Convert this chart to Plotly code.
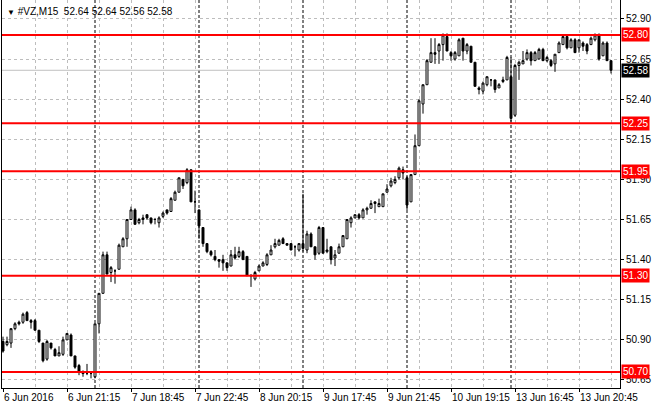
import plotly.graph_objects as go

symbol = "#VZ,M15"
days = ["6 Jun", "7 Jun", "8 Jun", "9 Jun", "10 Jun", "13 Jun"]
year = "2016"
session_slots = ["16:30", "16:45", "17:00", "17:15", "17:30", "17:45", "18:00", "18:15",
                 "18:30", "18:45", "19:00", "19:15", "19:30", "19:45", "20:00", "20:15",
                 "20:30", "20:45", "21:00", "21:15", "21:30", "21:45", "22:00", "22:15",
                 "22:30", "22:45"]
first_slot = "17:15"

opens = [50.89, 50.87, 50.88, 50.97, 51.01, 51.01, 51.07, 51.02, 51.02, 50.96,
         50.88, 50.78, 50.88, 50.84, 50.80, 50.81, 50.90, 50.93, 50.80, 50.74,
         50.70, 50.69, 50.69, 50.67, 51.00, 51.19, 51.43, 51.32, 51.33, 51.34,
         51.48, 51.53, 51.65, 51.71, 51.63, 51.65, 51.68, 51.66, 51.65, 51.63,
         51.67, 51.71, 51.70, 51.77, 51.82, 51.90, 51.88, 51.96, 51.76, 51.71,
         51.60, 51.50, 51.45, 51.42, 51.40, 51.40, 51.38, 51.36, 51.43, 51.42,
         51.45, 51.42, 51.30, 51.28, 51.33, 51.36, 51.37, 51.43, 51.48, 51.49,
         51.53, 51.50, 51.50, 51.48, 51.46, 51.50, 51.46, 51.56, 51.48, 51.44,
         51.60, 51.45, 51.48, 51.41, 51.44, 51.48, 51.53, 51.63, 51.66, 51.68,
         51.66, 51.71, 51.72, 51.76, 51.73, 51.73, 51.82, 51.86, 51.88, 51.91,
         51.96, 51.91, 51.76, 51.93, 52.11, 52.37, 52.49, 52.63, 52.69, 52.70,
         52.74, 52.79, 52.69, 52.65, 52.67, 52.78, 52.70, 52.73, 52.63, 52.47,
         52.45, 52.49, 52.52, 52.52, 52.47, 52.51, 52.52, 52.54, 52.30, 52.61,
         52.62, 52.65, 52.69, 52.64, 52.65, 52.71, 52.64, 52.64, 52.62, 52.69,
         52.74, 52.79, 52.72, 52.77, 52.72, 52.75, 52.74, 52.74, 52.77, 52.80,
         52.67, 52.75, 52.64]
highs = [50.92, 50.92, 50.97, 51.01, 51.02, 51.07, 51.08, 51.03, 51.03, 50.96,
         50.88, 50.90, 50.88, 50.85, 50.86, 50.92, 50.94, 50.94, 50.80, 50.75,
         50.71, 50.75, 50.69, 51.00, 51.19, 51.45, 51.45, 51.36, 51.34, 51.50,
         51.54, 51.65, 51.73, 51.72, 51.66, 51.68, 51.68, 51.66, 51.66, 51.67,
         51.70, 51.71, 51.79, 51.83, 51.91, 51.90, 51.97, 51.96, 51.83, 51.71,
         51.60, 51.50, 51.46, 51.46, 51.40, 51.43, 51.38, 51.46, 51.48, 51.48,
         51.46, 51.42, 51.31, 51.33, 51.37, 51.39, 51.44, 51.49, 51.53, 51.53,
         51.54, 51.50, 51.50, 51.49, 51.50, 51.81, 51.58, 51.57, 51.48, 51.61,
         51.60, 51.53, 51.48, 51.46, 51.50, 51.55, 51.65, 51.67, 51.68, 51.69,
         51.72, 51.73, 51.77, 51.76, 51.78, 51.81, 51.87, 51.91, 51.92, 51.98,
         51.98, 51.92, 51.93, 52.18, 52.40, 52.49, 52.65, 52.78, 52.78, 52.75,
         52.81, 52.81, 52.70, 52.70, 52.78, 52.78, 52.75, 52.73, 52.63, 52.48,
         52.51, 52.54, 52.52, 52.52, 52.50, 52.54, 52.67, 52.66, 52.62, 52.64,
         52.70, 52.71, 52.70, 52.70, 52.72, 52.72, 52.67, 52.65, 52.68, 52.76,
         52.79, 52.79, 52.78, 52.78, 52.77, 52.76, 52.75, 52.79, 52.81, 52.81,
         52.76, 52.76, 52.64]
lows = [50.82, 50.86, 50.85, 50.96, 50.99, 51.00, 51.02, 50.97, 50.96, 50.88,
        50.76, 50.77, 50.84, 50.80, 50.80, 50.80, 50.90, 50.80, 50.72, 50.68,
        50.67, 50.68, 50.66, 50.66, 50.94, 51.19, 51.31, 51.26, 51.25, 51.34,
        51.48, 51.48, 51.65, 51.62, 51.62, 51.62, 51.65, 51.62, 51.62, 51.60,
        51.66, 51.68, 51.70, 51.77, 51.82, 51.84, 51.87, 51.76, 51.69, 51.53,
        51.48, 51.44, 51.42, 51.39, 51.35, 51.33, 51.33, 51.36, 51.40, 51.41,
        51.40, 51.30, 51.23, 51.27, 51.33, 51.36, 51.36, 51.43, 51.47, 51.49,
        51.50, 51.49, 51.46, 51.42, 51.45, 51.45, 51.44, 51.48, 51.40, 51.43,
        51.44, 51.44, 51.37, 51.36, 51.44, 51.48, 51.53, 51.60, 51.66, 51.65,
        51.66, 51.68, 51.72, 51.69, 51.73, 51.73, 51.82, 51.85, 51.87, 51.90,
        51.90, 51.71, 51.76, 51.93, 52.11, 52.31, 52.49, 52.63, 52.62, 52.62,
        52.64, 52.70, 52.64, 52.64, 52.67, 52.64, 52.68, 52.63, 52.48, 52.43,
        52.43, 52.48, 52.48, 52.44, 52.47, 52.50, 52.52, 52.26, 52.29, 52.52,
        52.62, 52.64, 52.61, 52.64, 52.65, 52.64, 52.63, 52.60, 52.57, 52.69,
        52.74, 52.71, 52.72, 52.69, 52.69, 52.70, 52.68, 52.74, 52.76, 52.64,
        52.67, 52.64, 52.56]
closes = [50.83, 50.89, 50.97, 51.00, 51.00, 51.06, 51.02, 51.01, 50.96, 50.89,
          50.77, 50.89, 50.85, 50.80, 50.82, 50.90, 50.94, 50.80, 50.73, 50.70,
          50.69, 50.69, 50.69, 51.00, 51.19, 51.43, 51.31, 51.35, 51.33, 51.49,
          51.53, 51.65, 51.71, 51.62, 51.65, 51.66, 51.66, 51.63, 51.65, 51.66,
          51.69, 51.69, 51.78, 51.82, 51.91, 51.86, 51.96, 51.76, 51.76, 51.61,
          51.50, 51.45, 51.43, 51.40, 51.39, 51.38, 51.35, 51.43, 51.41, 51.45,
          51.40, 51.30, 51.30, 51.32, 51.36, 51.38, 51.43, 51.46, 51.50, 51.52,
          51.50, 51.49, 51.46, 51.48, 51.50, 51.47, 51.56, 51.48, 51.43, 51.60,
          51.44, 51.46, 51.40, 51.43, 51.48, 51.55, 51.65, 51.66, 51.68, 51.66,
          51.71, 51.72, 51.75, 51.75, 51.75, 51.81, 51.84, 51.89, 51.90, 51.97,
          51.94, 51.74, 51.93, 52.11, 52.39, 52.49, 52.64, 52.69, 52.68, 52.74,
          52.80, 52.70, 52.67, 52.69, 52.77, 52.70, 52.74, 52.63, 52.48, 52.46,
          52.50, 52.54, 52.52, 52.46, 52.49, 52.52, 52.66, 52.28, 52.61, 52.63,
          52.64, 52.69, 52.64, 52.69, 52.71, 52.64, 52.66, 52.61, 52.68, 52.75,
          52.79, 52.72, 52.77, 52.69, 52.77, 52.73, 52.70, 52.78, 52.80, 52.65,
          52.75, 52.64, 52.58]

levels = [52.80, 52.25, 51.95, 51.30, 50.70]
bid = 52.58

# bar time labels
bar_day = []
bar_time = []
for d_i, d in enumerate(days):
    slots = session_slots[session_slots.index(first_slot):] if d_i == 0 else session_slots
    for s in slots:
        bar_day.append(d)
        bar_time.append(s)
n = len(opens)
xs = list(range(n))
labels = [f"{d} {t}" for d, t in zip(bar_day, bar_time)]

tick_idx = list(range(0, n, 16))
tick_text = [f"{days[0]} {year}" if i == 0 else labels[i] for i in tick_idx]
day_starts = [i for i in range(1, n) if bar_day[i] != bar_day[i - 1]]

FONT = "Liberation Sans"
GRID = "#bdbdbd"
fig = go.Figure()
fig.add_trace(go.Candlestick(
    x=xs, open=opens, high=highs, low=lows, close=closes, text=labels,
    increasing=dict(line=dict(color="black", width=1), fillcolor="white"),
    decreasing=dict(line=dict(color="black", width=1), fillcolor="black"),
    whiskerwidth=0, hoverinfo="skip", showlegend=False))

shapes = []
for i in day_starts:
    shapes.append(dict(type="line", xref="x", yref="paper", x0=i, x1=i, y0=0, y1=1,
                       line=dict(color="black", width=1, dash="3px,2px"), layer="below"))
shapes.append(dict(type="line", xref="paper", yref="y", x0=0, x1=1, y0=bid, y1=bid,
                   line=dict(color="#c0c0c0", width=1), layer="below"))
for lv in levels:
    shapes.append(dict(type="line", xref="paper", yref="y", x0=0, x1=1, y0=lv, y1=lv,
                       line=dict(color="#ff0000", width=2)))

ann = []
for lv in levels:
    ann.append(dict(x=1, xref="paper", y=lv, yref="y", xanchor="left", yanchor="middle",
                    xshift=1, text=f"{lv:.2f}", showarrow=False, bgcolor="#ff0000",
                    borderpad=1, font=dict(family=FONT, size=10, color="white")))
ann.append(dict(x=1, xref="paper", y=bid, yref="y", xanchor="left", yanchor="middle",
                xshift=1, text=f"{bid:.2f}", showarrow=False, bgcolor="black",
                borderpad=1, font=dict(family=FONT, size=10, color="white")))
header = (f"<span style='font-size:8px'>▼</span> {symbol}  "
          f"{opens[-1]:.2f} {highs[-1]:.2f} {lows[-1]:.2f} {closes[-1]:.2f}")
ann.append(dict(x=0, xref="paper", y=1, yref="paper", xanchor="left", yanchor="top",
                xshift=3, yshift=-4, text=header, showarrow=False,
                font=dict(family=FONT, size=10, color="black")))

fig.update_layout(
    width=660, height=410, margin=dict(l=2, r=40, t=0, b=22, autoexpand=False),
    paper_bgcolor="white", plot_bgcolor="white",
    shapes=shapes, annotations=ann, showlegend=False,
    font=dict(family=FONT, size=10, color="black"),
)
fig.update_xaxes(
    range=[-0.25, 154.25], rangeslider_visible=False, automargin=False, tickangle=0,
    tickmode="array", tickvals=tick_idx, ticktext=tick_text,
    ticklabelposition="outside right", ticks="outside", ticklen=3, tickcolor="black",
    showgrid=True, gridcolor=GRID, griddash="3px,3px", gridwidth=1,
    minor=dict(tickmode="linear", tick0=0, dtick=8, showgrid=True,
               gridcolor=GRID, griddash="3px,3px", ticks=""),
    showline=True, linecolor="black", linewidth=1, zeroline=False,
    tickfont=dict(family=FONT, size=10, color="black"),
)
fig.update_yaxes(
    side="right", range=[50.600, 53.018], tickmode="linear", tick0=50.65, dtick=0.25,
    automargin=False,
    tickformat=".2f", ticks="outside", ticklen=3, tickcolor="black",
    showgrid=True, gridcolor=GRID, griddash="3px,3px", gridwidth=1,
    showline=True, linecolor="black", linewidth=1, mirror=True, zeroline=False,
    tickfont=dict(family=FONT, size=10, color="black"),
)
fig.write_html(
    "out.html",
    config={"displayModeBar": False},
    post_script=("document.body.style.margin='0px';"
                 "document.body.style.overflow='hidden';"),
)
